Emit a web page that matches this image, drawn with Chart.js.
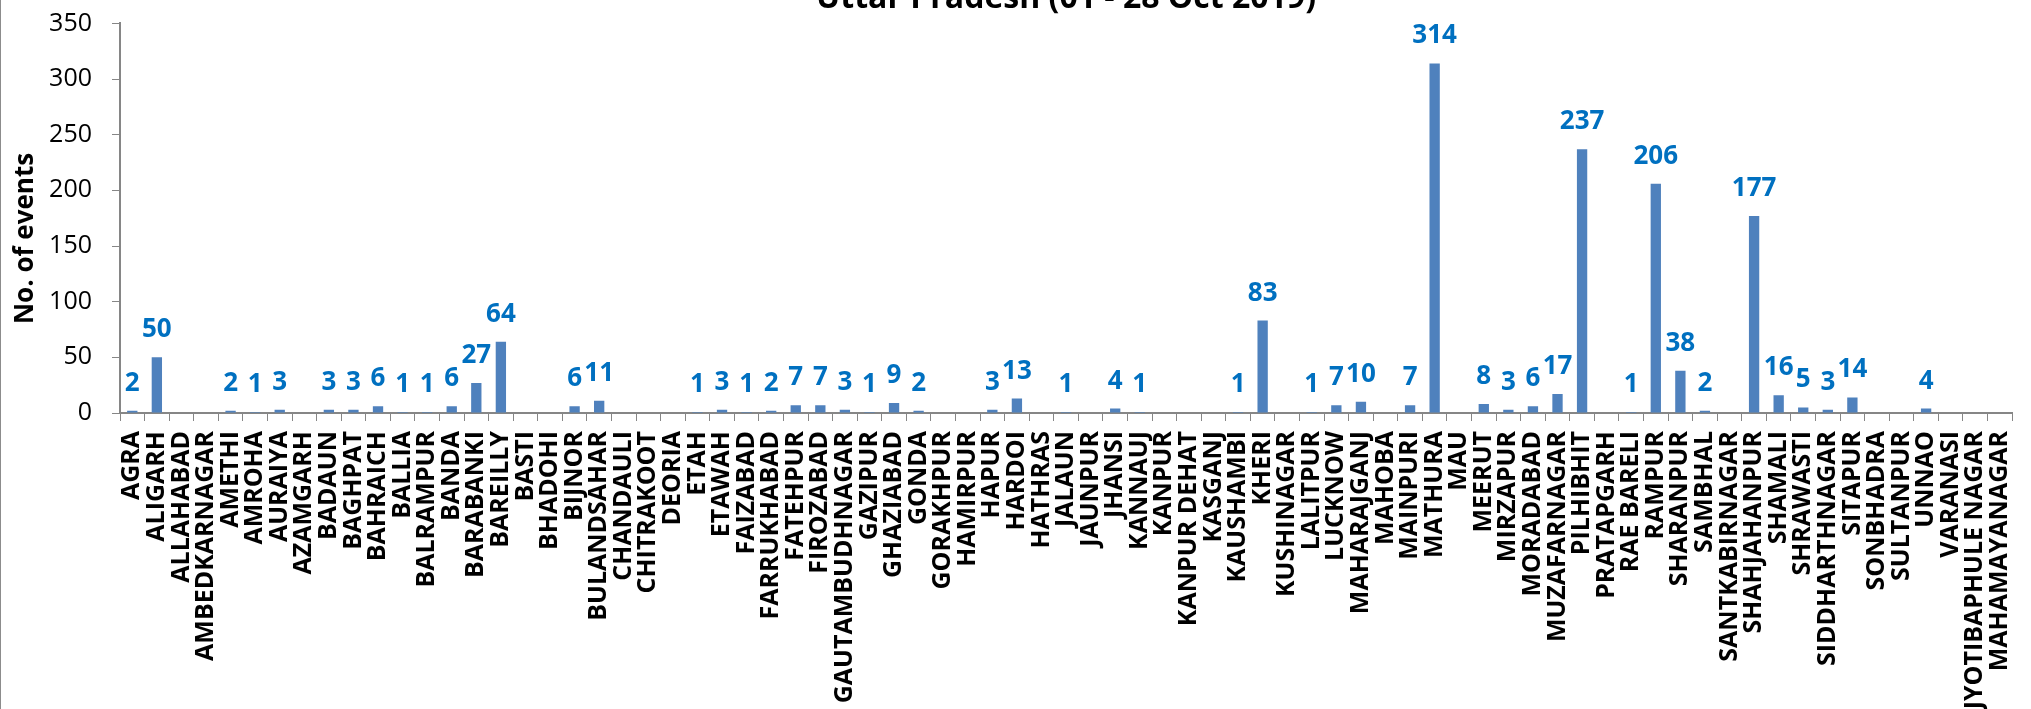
<!DOCTYPE html>
<html>
<head>
<meta charset="utf-8">
<script src="https://cdn.jsdelivr.net/npm/chart.js@4.4.1/dist/chart.umd.min.js"></script>
<style>
	html, body { margin:0; padding:0; background:#fff; overflow:hidden; }
	body { width:2031px; height:709px; position:relative; }
	#edge { position:absolute; left:0; top:0; width:1px; height:709px; background:#8c8c8c; }
	#wrap { position:absolute; left:0; top:-20px; width:2040px; height:800px; }
</style>
</head>
<body>
<div id="wrap"><canvas id="bar-chart" width="2040" height="800"></canvas></div>
<div id="edge"></div>
<script>
// districts of Uttar Pradesh, in the order of the x axis
const districts = ['AGRA','ALIGARH','ALLAHABAD','AMBEDKARNAGAR','AMETHI','AMROHA','AURAIYA','AZAMGARH',
	'BADAUN','BAGHPAT','BAHRAICH','BALLIA','BALRAMPUR','BANDA','BARABANKI','BAREILLY','BASTI','BHADOHI',
	'BIJNOR','BULANDSAHAR','CHANDAULI','CHITRAKOOT','DEORIA','ETAH','ETAWAH','FAIZABAD','FARRUKHABAD',
	'FATEHPUR','FIROZABAD','GAUTAMBUDHNAGAR','GAZIPUR','GHAZIABAD','GONDA','GORAKHPUR','HAMIRPUR','HAPUR',
	'HARDOI','HATHRAS','JALAUN','JAUNPUR','JHANSI','KANNAUJ','KANPUR','KANPUR DEHAT','KASGANJ','KAUSHAMBI',
	'KHERI','KUSHINAGAR','LALITPUR','LUCKNOW','MAHARAJGANJ','MAHOBA','MAINPURI','MATHURA','MAU','MEERUT',
	'MIRZAPUR','MORADABAD','MUZAFARNAGAR','PILHIBHIT','PRATAPGARH','RAE BARELI','RAMPUR','SHARANPUR',
	'SAMBHAL','SANTKABIRNAGAR','SHAHJAHANPUR','SHAMALI','SHRAWASTI','SIDDHARTHNAGAR','SITAPUR','SONBHADRA',
	'SULTANPUR','UNNAO','VARANASI','JYOTIBAPHULE NAGAR','MAHAMAYANAGAR'];

// no. of events, 01 - 28 Oct 2019 (0 = no label shown)
const events = [2,50,0,0,2,1,3,0,
	3,3,6,1,1,6,27,64,0,0,
	6,11,0,0,0,1,3,1,2,
	7,7,3,1,9,2,0,0,3,
	13,0,1,0,4,1,0,0,0,1,
	83,0,1,7,10,0,7,314,0,8,
	3,6,17,237,0,1,206,38,
	2,0,177,16,5,3,14,0,
	0,4,0,0,0];

const yTicks = [0,50,100,150,200,250,300,350];

const chartTitle = 'Uttar Pradesh (01 - 28 Oct 2019)';
// trailing spaces push the rotated title a bit lower, like in excel
const yTitle = 'No. of events      ';

// blue numbers over the bars
const valueLabels = {
	id:'valueLabels',
	afterDatasetsDraw(chart){
		const ctx = chart.ctx;
		const meta = chart.getDatasetMeta(0);
		ctx.save();
		ctx.font = 'bold 26px "Open Sans"';
		ctx.fillStyle = '#0070C0';
		ctx.textAlign = 'center';
		ctx.textBaseline = 'alphabetic';
		meta.data.forEach(function(bar, i){
			if(!events[i]) return;
			ctx.fillText(String(events[i]), bar.x, bar.y - 20);
		});
		ctx.restore();
	}
};

const bctx = document.querySelector('#bar-chart');
const barChart = new Chart(bctx, {
	type:'bar',
	data:{
		labels:districts,
		datasets:[
			{
				label:'events',
				data:events,
				backgroundColor:'#4F81BD',
				borderWidth:0,
				barPercentage:0.42,
				categoryPercentage:1
			}
		]
	},
	options:{
		responsive:false,
		animation:false,
		layout:{ padding:{ left:0, right:6, top:0, bottom:0 } },
		plugins:{
			legend:{ display:false },
			tooltip:{ enabled:false },
			title:{
				display:true,
				text:chartTitle,
				fullSize:false,
				color:'#000',
				font:{ family:'"Open Sans"', size:32, weight:'bold' },
				padding:{ top:0, bottom:5 }
			}
		},
		scales:{
			x:{
				afterFit(scale){ scale.height = 367; },
				grid:{ display:true, drawOnChartArea:false, color:'#868686', tickLength:8 },
				border:{ display:true, color:'#868686', width:2 },
				ticks:{
					autoSkip:false,
					maxRotation:90,
					minRotation:90,
					padding:10,
					color:'#000',
					font:{ family:'"Open Sans"', size:25, weight:'bold' }
				}
			},
			y:{
				min:0,
				max:350,
				afterFit(scale){ scale.width = 120; },
				afterBuildTicks(scale){ scale.ticks = yTicks.map(v => ({value:v})); },
				grid:{ display:true, drawOnChartArea:false, color:'#868686', tickLength:8 },
				border:{ display:true, color:'#868686', width:2 },
				title:{
					display:true,
					text:yTitle,
					color:'#000',
					font:{ family:'"Open Sans"', size:26, weight:'bold' },
					padding:{ top:10, bottom:0 }
				},
				ticks:{
					padding:20,
					color:'#000',
					font:{ family:'"Open Sans"', size:25 }
				}
			}
		}
	},
	plugins:[valueLabels]
});
</script>
</body>
</html>
